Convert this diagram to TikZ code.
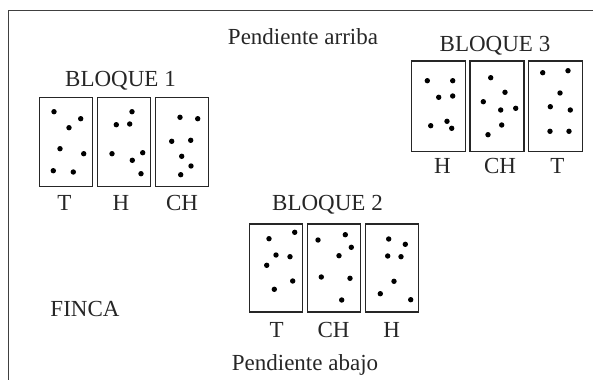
\documentclass[tikz,border=0pt]{standalone}
\usepackage{fontspec}
\setmainfont{Liberation Serif}
\begin{document}
\begin{tikzpicture}[x=1pt,y=-1pt,
  plot/.style={draw=black!85, line width=1.3pt, inner sep=0pt,
               minimum width=53pt, minimum height=89pt},
  lbl/.style={anchor=base, inner sep=0pt, text=black!85,
              font=\fontsize{23}{27}\selectfont},
  plant/.style={fill=black, radius=2.7pt}]
\useasboundingbox (0,0) rectangle (593,380);

% farm boundary
\draw[black!75, line width=1.5pt] (593,10.5) -- (8.5,10.5) -- (8.5,380);

% slope and farm labels
\node[lbl] (arriba) at (303,44) {Pendiente arriba};
\node[lbl] (abajo) at (305,370) {Pendiente abajo};
\node[lbl] (finca) at (85,316.5) {FINCA};

% ---- block 1 ----
\node[lbl] (t1) at (120.5,86) {BLOQUE 1};
\node[plot] (b1a) at (65.7,141.7) {};
\node[plot] (b1b) at (124.2,141.7) {};
\node[plot] (b1c) at (182.3,141.7) {};
\node[lbl] (l1a) at (64.5,210) {T};
\node[lbl] (l1b) at (121,210) {H};
\node[lbl] (l1c) at (182,210) {CH};
\foreach \p in {(54,111.7),(80.7,118.7),(69,127.7),(60,148.7),(83.7,153.7),(53.3,170.7),(73.3,172),
                (132,111.7),(116.3,124.7),(129.7,124),(112,153.7),(142.7,152.7),(132.3,160.3),(141,173.7),
                (180,117.3),(197.7,118.7),(171.7,141.3),(190.7,140.3),(181.7,156.3),(191,166),(180.7,174.7)}
  \fill[plant] \p circle[];

% ---- block 3 ----
\node[lbl] (t3) at (495,51) {BLOQUE 3};
\node[plot, minimum width=54pt, minimum height=90.7pt] (b3a) at (438.5,106.3) {};
\node[plot, minimum width=54pt, minimum height=90.7pt] (b3b) at (497,106.3) {};
\node[plot, minimum width=54pt, minimum height=90.7pt] (b3c) at (555.5,106.3) {};
\node[lbl] (l3a) at (442.5,173) {H};
\node[lbl] (l3b) at (500,173) {CH};
\node[lbl] (l3c) at (557.5,173) {T};
\foreach \p in {(427.3,80.7),(452.7,80.7),(438.7,97.3),(452.7,96),(430.7,125.7),(447,121.3),(451.7,128.3),
                (490.7,77.7),(505,92.3),(483.3,101.7),(500.7,110),(515.7,108.3),(501.7,125),(488,134.7),
                (542.7,72.7),(568,70.7),(560,93),(550.3,106.7),(570.3,110),(550,131.3),(569,131.3)}
  \fill[plant] \p circle[];

% ---- block 2 ----
\node[lbl] (t2) at (327.5,210) {BLOQUE 2};
\node[plot, minimum height=88pt] (b2a) at (275.8,268) {};
\node[plot, minimum height=88pt] (b2b) at (334,268) {};
\node[plot, minimum height=88pt] (b2c) at (392.3,268) {};
\node[lbl] (l2a) at (276.7,337) {T};
\node[lbl] (l2b) at (333.5,337) {CH};
\node[lbl] (l2c) at (391.7,337) {H};
\foreach \p in {(269,238.7),(294.7,232.3),(276,255),(290,256.7),(266.7,265.3),(292.7,281),(274.3,289.3),
                (318,240),(345.3,234.7),(351.3,247.3),(339,255.7),(321.3,277),(350,278.3),(341.7,300),
                (388.7,239),(405.3,244.3),(387.7,256),(401,256.7),(394,281.3),(380.3,293.7),(410.7,299.7)}
  \fill[plant] \p circle[];
\end{tikzpicture}
\end{document}
